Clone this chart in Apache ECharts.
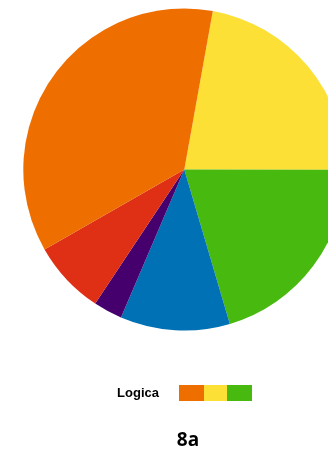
<!DOCTYPE html>
<html>
<head>
<meta charset="utf-8">
<script src="https://cdn.jsdelivr.net/npm/echarts@6/dist/echarts.min.js"></script>
<style>
  html, body { margin: 0; padding: 0; background: #ffffff; }
  #chart { width: 328px; height: 459px; }
</style>
</head>
<body>
<div id="chart"></div>
<script>
// Slice shares (percent), drawn clockwise
const sliceNames = ['Giallo', 'Verde', 'Blu', 'Viola', 'Rosso', 'Arancione'];
const sliceValues = [22.2, 20.4, 11.0, 2.9, 7.4, 36.1];
const sliceColors = ['#FCE035', '#48B90F', '#0071B4', '#46006E', '#DF3016', '#EF6E00'];

// Key entry: caption and its swatch colours
const keyLabel = 'Logica';
const keyColors = ['#EF6E00', '#FCE035', '#48B90F'];
const chartTitle = '8a';

const chart = echarts.init(document.getElementById('chart'), null, { renderer: 'canvas' });

const swatchX = 179, swatchY = 385, swatchW = [25, 23, 25], swatchH = 16;
const keyGraphics = [];
let x = swatchX;
keyColors.forEach(function (c, i) {
  keyGraphics.push({
    type: 'rect',
    shape: { x: x, y: swatchY, width: swatchW[i], height: swatchH },
    style: { fill: c }
  });
  x += swatchW[i];
});
keyGraphics.push({
  type: 'text',
  x: 159, y: 393,
  style: {
    text: keyLabel,
    font: 'bold 13px "Liberation Sans", Arial, sans-serif',
    fill: '#000000',
    align: 'right',
    verticalAlign: 'middle'
  }
});
keyGraphics.push({
  type: 'text',
  x: 188, y: 441,
  style: {
    text: chartTitle,
    font: 'bold 19px "Open Sans", "Liberation Sans", sans-serif',
    fill: '#000000',
    align: 'center',
    verticalAlign: 'middle'
  }
});

chart.setOption({
  animation: false,
  backgroundColor: '#ffffff',
  graphic: keyGraphics,
  series: [{
    type: 'pie',
    center: [184.3, 169.5],
    radius: 161,
    startAngle: 79.8,
    clockwise: true,
    silent: true,
    label: { show: false },
    labelLine: { show: false },
    itemStyle: { borderWidth: 0 },
    data: sliceNames.map(function (n, i) {
      return { name: n, value: sliceValues[i], itemStyle: { color: sliceColors[i] } };
    })
  }]
});
</script>
</body>
</html>
